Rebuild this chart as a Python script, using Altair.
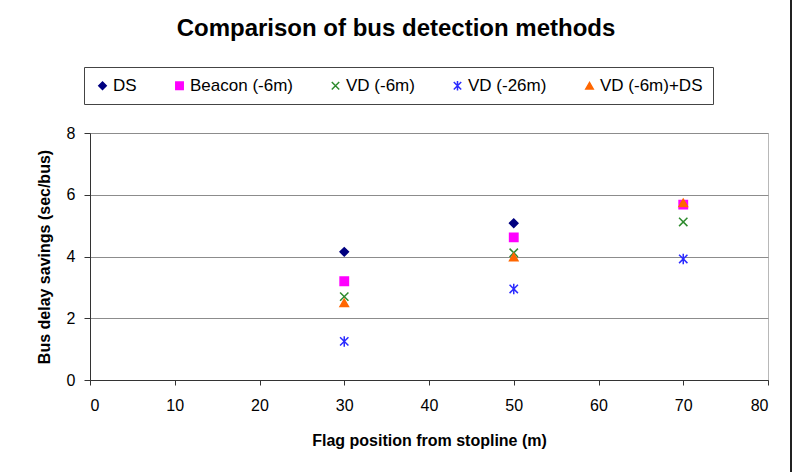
import altair as alt
import pandas as pd

# Flag positions (m from stopline) and delay savings (sec/bus) per detection method
flag_pos = [30, 50, 70]
ds = [4.15, 5.08]
beacon = [3.20, 4.62, 5.68]
vd_6 = [2.70, 4.12, 5.12]
vd_26 = [1.25, 2.95, 3.92]
vd_6_ds = [2.50, 3.98, 5.74]

series_names = ["DS", "Beacon (-6m)", "VD (-6m)", "VD (-26m)", "VD (-6m)+DS"]
series_values = [ds, beacon, vd_6, vd_26, vd_6_ds]

stroke_colors = ["#000080", "#FF00FF", "#2E8B2E", "#2B2BFF", "#FF6600"]
fill_colors = ["#000080", "#FF00FF", "transparent", "transparent", "#FF6600"]
shapes = [
    "diamond",
    "square",
    "M-1,-1L1,1M1,-1L-1,1",
    "M-1,-1L1,1M1,-1L-1,1M0,-1.25L0,1.25",
    "triangle-up",
]

rows = []
for i, (name, vals) in enumerate(zip(series_names, series_values)):
    for x, v in zip(flag_pos, vals):
        rows.append({"series": name, "rank": i, "flag": x, "saving": v})
df = pd.DataFrame(rows)

FONT = "Liberation Sans"

legend = alt.Legend(
    title=None,
    orient="none",
    legendX=-6,
    legendY=-66,
    direction="horizontal",
    columns=5,
    columnPadding=34,
    strokeColor="#444444",
    padding=10,
    labelFont=FONT,
    labelFontSize=17,
    labelColor="#000000",
    symbolStrokeWidth=1.5,
    symbolSize=55,
    labelOffset=2,
)

points = alt.Chart(df).mark_point(size=70, strokeWidth=1.5, opacity=1).encode(
    x=alt.X(
        "flag:Q",
        scale=alt.Scale(domain=[0, 80], nice=False),
        axis=alt.Axis(
            values=list(range(0, 81, 10)),
            title="Flag position from stopline (m)",
            grid=False,
            tickSize=5,
            labelPadding=12,
            titlePadding=19,
        ),
    ),
    y=alt.Y(
        "saving:Q",
        scale=alt.Scale(domain=[0, 8], nice=False),
        axis=alt.Axis(
            values=[0, 2, 4, 6, 8],
            title="Bus delay savings (sec/bus)",
            grid=True,
            tickSize=6,
            labelPadding=9,
            titlePadding=14,
        ),
    ),
    color=alt.Color(
        "series:N",
        scale=alt.Scale(domain=series_names, range=stroke_colors),
        legend=legend,
    ),
    fill=alt.Fill(
        "series:N",
        scale=alt.Scale(domain=series_names, range=fill_colors),
        legend=legend,
    ),
    shape=alt.Shape(
        "series:N",
        scale=alt.Scale(domain=series_names, range=shapes),
        legend=legend,
    ),
    order=alt.Order("rank:Q"),
)

# outer frame line of the chart area on the right side
frame = alt.Chart(df).mark_rule(color="#222222", strokeWidth=1.2).encode(
    x=alt.value(701), y=alt.value(-133), y2=alt.value(339)
)

chart = (
    alt.layer(points, frame)
    .properties(
        width=678,
        height=247,
        autosize=alt.AutoSizeParams(type="none"),
        padding={"left": 90, "top": 133, "right": 31, "bottom": 92},
        background="white",
        title=alt.Title(
            "Comparison of bus detection methods",
            font=FONT,
            fontSize=24,
            fontWeight="bold",
            color="#000000",
            anchor="middle",
            dx=-33,
            offset=-42,
        ),
    )
    .configure_view(stroke="#B8B8B8", strokeWidth=1)
    .configure_axis(
        labelFont=FONT,
        labelFontSize=16,
        labelColor="#000000",
        titleFont=FONT,
        titleFontSize=16,
        titleFontWeight="bold",
        titleColor="#000000",
        domainColor="#333333",
        tickColor="#333333",
        gridColor="#8C8C8C",
        gridWidth=1,
    )
)

chart.save("out.html", embed_options={"renderer": "svg", "actions": False})
